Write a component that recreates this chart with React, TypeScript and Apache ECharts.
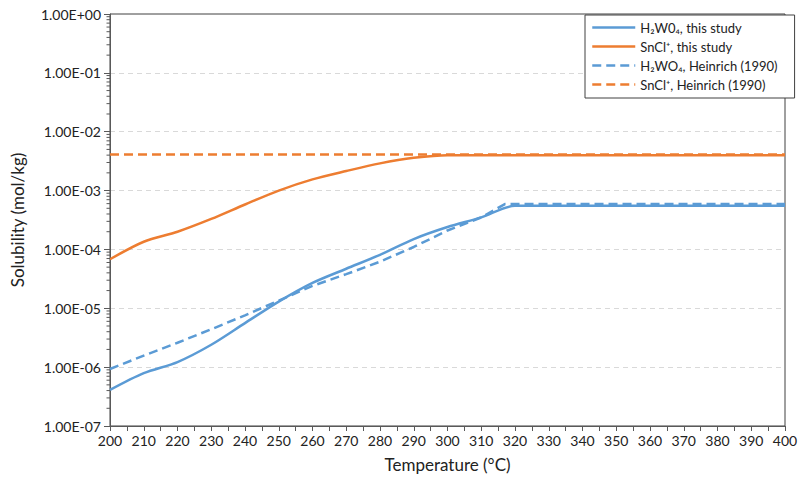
import React, { useEffect, useRef } from "react";
import * as echarts from "echarts";

const temps = [200, 210, 220, 230, 240, 250, 260, 270, 280, 290, 300, 310, 320, 330, 340, 350, 360, 370, 380, 390, 400];
const h2wo4Study = [4.1e-7, 7.9e-7, 1.22e-6, 2.4e-6, 5.6e-6, 1.3e-5, 2.7e-5, 4.7e-5, 8.1e-5, 1.5e-4, 2.4e-4, 3.5e-4, 5.5e-4, 5.5e-4, 5.5e-4, 5.5e-4, 5.5e-4, 5.5e-4, 5.5e-4, 5.5e-4, 5.5e-4];
const snclStudy = [6.8e-5, 1.35e-4, 2.0e-4, 3.3e-4, 5.8e-4, 1.0e-3, 1.55e-3, 2.15e-3, 2.9e-3, 3.6e-3, 4.0e-3, 4.0e-3, 4.0e-3, 4.0e-3, 4.0e-3, 4.0e-3, 4.0e-3, 4.0e-3, 4.0e-3, 4.0e-3, 4.0e-3];
const heinrichTemps = [200, 210, 220, 230, 240, 250, 260, 270, 280, 290, 300, 310, 317, 330, 340, 350, 360, 370, 380, 390, 400];
const h2wo4Heinrich = [9.3e-7, 1.57e-6, 2.6e-6, 4.4e-6, 7.6e-6, 1.35e-5, 2.4e-5, 3.8e-5, 6.2e-5, 1.1e-4, 2.1e-4, 3.5e-4, 5.9e-4, 5.9e-4, 5.9e-4, 5.9e-4, 5.9e-4, 5.9e-4, 5.9e-4, 5.9e-4, 5.9e-4];
const snclHeinrich = [4.1e-3, 4.1e-3, 4.1e-3, 4.1e-3, 4.1e-3, 4.1e-3, 4.1e-3, 4.1e-3, 4.1e-3, 4.1e-3, 4.1e-3, 4.1e-3, 4.1e-3, 4.1e-3, 4.1e-3, 4.1e-3, 4.1e-3, 4.1e-3, 4.1e-3, 4.1e-3, 4.1e-3];
const seriesNames = ["H₂W0₄, this study", "SnCl⁺, this study", "H₂WO₄, Heinrich (1990)", "SnCl⁺, Heinrich (1990)"];

// log-axis minor tick positions: multipliers within each decade
const minorDecades = [-7, -6, -5, -4, -3, -2, -1];
const minorMultipliers = [2, 3, 4, 5, 6, 7, 8, 9];

const BLUE = "#5B9BD5";
const ORANGE = "#ED7D31";
const AXIS = "#595959";
const FONT = "Lato, 'Open Sans', sans-serif";

function fmtExp(v: number): string {
  const e = Math.round(Math.log10(v));
  const m = v / Math.pow(10, e);
  const sign = e < 0 ? "-" : "+";
  const abs = Math.abs(e);
  return m.toFixed(2) + "E" + sign + (abs < 10 ? "0" + abs : String(abs));
}

function pairs(xs: number[], ys: number[]) {
  return xs.map((x, i) => [x, ys[i]]);
}

export default function App() {
  const ref = useRef<HTMLDivElement>(null);
  useEffect(() => {
    if (!ref.current) return;
    const chart = echarts.init(ref.current, undefined, { renderer: "svg" });
    const minorData: number[][] = [];
    minorDecades.forEach((d) => minorMultipliers.forEach((m) => minorData.push([200, m * Math.pow(10, d)])));
    chart.setOption({
      animation: false,
      backgroundColor: "#ffffff",
      textStyle: { fontFamily: FONT },
      grid: {
        left: 110,
        right: 20,
        top: 14,
        bottom: 58,
        show: true,
        borderColor: "#404040",
        borderWidth: 1,
        containLabel: false,
      },
      legend: {
        orient: "vertical",
        left: 585,
        top: 15,
        padding: [6, 17, 7, 6],
        itemGap: 6,
        itemWidth: 43,
        itemHeight: 14,
        backgroundColor: "#ffffff",
        borderColor: "#404040",
        borderWidth: 1,
        borderRadius: 0,
        itemStyle: { opacity: 0 },
        lineStyle: { width: 2.5 },
        textStyle: { fontFamily: FONT, fontSize: 13, color: "#222" },
        data: seriesNames.map((n) => ({ name: n })),
      },
      xAxis: {
        type: "value",
        min: 200,
        max: 400,
        interval: 10,
        name: "Temperature (°C)",
        nameLocation: "middle",
        nameGap: 30,
        nameTextStyle: { fontFamily: FONT, fontSize: 17, color: "#222" },
        axisLine: { show: true, lineStyle: { color: AXIS, width: 1 } },
        axisTick: { show: true, inside: false, length: 5, lineStyle: { color: AXIS } },
        minorTick: { show: true, splitNumber: 2, length: 5, lineStyle: { color: AXIS } },
        axisLabel: { fontFamily: FONT, fontSize: 14, color: "#222", margin: 7 },
        splitLine: { show: false },
      },
      yAxis: {
        type: "log",
        logBase: 10,
        min: 1e-7,
        max: 1,
        name: "Solubility (mol/kg)",
        nameLocation: "middle",
        nameGap: 84,
        nameRotate: 90,
        nameTextStyle: { fontFamily: FONT, fontSize: 17, color: "#222" },
        axisLine: { show: true, lineStyle: { color: AXIS, width: 1 } },
        axisTick: { show: true, inside: false, length: 6, lineStyle: { color: AXIS } },
        minorTick: { show: false },
        axisLabel: {
          fontFamily: FONT,
          fontSize: 14,
          color: "#222",
          margin: 9,
          formatter: (v: number) => fmtExp(v),
        },
        splitLine: {
          show: true,
          showMinLine: false,
          showMaxLine: false,
          lineStyle: { color: "#d9d9d9", type: [5, 4], width: 1 },
        },
      },
      series: [
        {
          name: seriesNames[0],
          type: "line",
          data: pairs(temps, h2wo4Study),
          smooth: 0.3,
          symbol: "none",
          showSymbol: false,
          lineStyle: { color: BLUE, width: 2.5 },
          itemStyle: { color: BLUE },
          z: 3,
        },
        {
          name: seriesNames[1],
          type: "line",
          data: pairs(temps, snclStudy),
          smooth: 0.3,
          symbol: "none",
          showSymbol: false,
          lineStyle: { color: ORANGE, width: 2.5 },
          itemStyle: { color: ORANGE },
          z: 3,
        },
        {
          name: seriesNames[2],
          type: "line",
          data: pairs(heinrichTemps, h2wo4Heinrich),
          smooth: false,
          symbol: "none",
          showSymbol: false,
          lineStyle: { color: BLUE, width: 2.5, type: [9, 5] },
          itemStyle: { color: BLUE },
          z: 2,
        },
        {
          name: seriesNames[3],
          type: "line",
          data: pairs(temps, snclHeinrich),
          smooth: false,
          symbol: "none",
          showSymbol: false,
          lineStyle: { color: ORANGE, width: 2.5, type: [9, 5] },
          itemStyle: { color: ORANGE },
          z: 2,
        },
        {
          name: "minorTicks",
          type: "custom",
          silent: true,
          clip: false,
          data: minorData,
          encode: { x: 0, y: 1 },
          renderItem: (params: any, api: any) => {
            const p = api.coord([api.value(0), api.value(1)]);
            return {
              type: "line",
              shape: { x1: p[0] - 3.5, y1: p[1], x2: p[0], y2: p[1] },
              style: { stroke: AXIS, lineWidth: 1 },
            };
          },
          z: 5,
        },
      ],
    });
    return () => chart.dispose();
  }, []);
  return <div ref={ref} style={{ width: 805, height: 484, position: "absolute", left: 0, top: 0 }} />;
}
